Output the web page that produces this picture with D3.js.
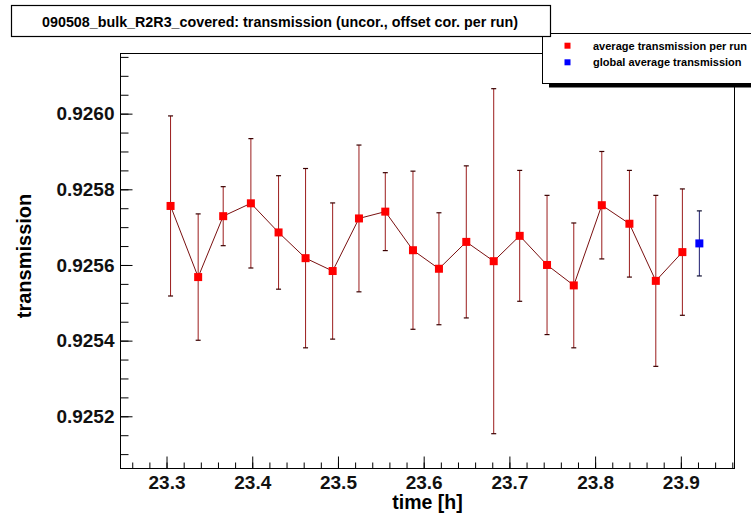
<!DOCTYPE html>
<html>
<head>
<meta charset="utf-8">
<script src="https://cdn.jsdelivr.net/npm/d3@7"></script>
<style>
  body { margin: 0; background: #fff; }
  text { font-family: "Liberation Sans", Arial, Helvetica, sans-serif; }
</style>
</head>
<body>
<svg width="751" height="514"></svg>
<script>
// run times [h], transmission per run and its error
var times = [23.3047, 23.3369, 23.3661, 23.3984, 23.4307, 23.4622, 23.4938, 23.5245, 23.5552, 23.5875,
             23.6178, 23.6497, 23.6817, 23.7120, 23.7439, 23.7751, 23.8078, 23.8400, 23.8708, 23.9018];
var trans = [0.925756, 0.925568, 0.925729, 0.925763, 0.925686, 0.925618, 0.925584, 0.925723, 0.925741, 0.925639,
             0.925590, 0.925661, 0.925610, 0.925677, 0.925600, 0.925546, 0.925758, 0.925709, 0.925558, 0.925634];
var errs  = [0.000238, 0.000167, 0.000078, 0.000171, 0.000150, 0.000237, 0.000180, 0.000194, 0.000103, 0.000209,
             0.000148, 0.000201, 0.000456, 0.000173, 0.000184, 0.000165, 0.000142, 0.000141, 0.000226, 0.000167];

// global average (drawn to the right of the last run)
var globalTime = [23.9216];
var globalTrans = [0.925657];
var globalErr = [0.000086];

var xTicks = [23.3, 23.4, 23.5, 23.6, 23.7, 23.8, 23.9];
var yTicks = [0.9252, 0.9254, 0.9256, 0.9258, 0.9260];

var title = "090508_bulk_R2R3_covered: transmission (uncor., offset cor. per run)";
var legendLabels = ["average transmission per run", "global average transmission"];

var svg = d3.select("svg");

// frame edges (note: "top" is taken by window.top)
var fLeft = 120.5, fRight = 734.5, fTop = 53.5, fBottom = 468.5;

var x = d3.scaleLinear()
    .domain([23.2463, 23.9626])
    .range([fLeft, fRight]);

var y = d3.scaleLinear()
    .domain([0.925062, 0.926159])
    .range([fBottom, fTop]);

// frame
svg.append("rect")
    .attr("x", fLeft).attr("y", fTop)
    .attr("width", fRight - fLeft).attr("height", fBottom - fTop)
    .attr("fill", "#fff").attr("stroke", "#000").attr("stroke-width", 1);

// minor ticks
var xMinor = d3.range(23.26, 23.97, 0.02).map(function(d) { return +d.toFixed(2); });
var yMinor = d3.range(0.92510, 0.92616, 0.00005).map(function(d) { return +d.toFixed(5); });

svg.append("g")
    .attr("transform", "translate(0," + fBottom + ")")
    .call(d3.axisBottom(x).tickValues(xMinor).tickSize(-6).tickFormat(""))
    .call(function(g) { g.select(".domain").remove(); });

svg.append("g")
    .attr("transform", "translate(" + fLeft + ",0)")
    .call(d3.axisLeft(y).tickValues(yMinor).tickSize(-8).tickFormat(""))
    .call(function(g) { g.select(".domain").remove(); });

// major ticks + labels
var xAxis = svg.append("g")
    .attr("transform", "translate(0," + fBottom + ")")
    .call(d3.axisBottom(x).tickValues(xTicks).tickSize(-12).tickPadding(7).tickFormat(d3.format(".1f")));
xAxis.select(".domain").remove();
xAxis.selectAll("text")
    .attr("font-size", "19px").attr("font-weight", "bold").attr("fill", "#111");

var yAxis = svg.append("g")
    .attr("transform", "translate(" + fLeft + ",0)")
    .call(d3.axisLeft(y).tickValues(yTicks).tickSize(-12).tickPadding(6).tickFormat(d3.format(".4f")));
yAxis.select(".domain").remove();
yAxis.selectAll("text")
    .attr("font-size", "19px").attr("font-weight", "bold").attr("fill", "#111");

svg.selectAll(".tick line").attr("stroke", "#000");

// axis titles
svg.append("text")
    .attr("x", (fLeft + fRight) / 2).attr("y", 509)
    .attr("text-anchor", "middle")
    .attr("font-size", "19.5px").attr("font-weight", "bold")
    .text("time [h]");

svg.append("text")
    .attr("transform", "translate(31,256) rotate(-90)")
    .attr("text-anchor", "middle")
    .attr("font-size", "20px").attr("font-weight", "bold")
    .text("transmission");

// data
var runs = times.map(function(t, i) { return { t: t, v: trans[i], e: errs[i] }; });
var glob = globalTime.map(function(t, i) { return { t: t, v: globalTrans[i], e: globalErr[i] }; });

function errorBars(data, color, capColor) {
    var g = svg.append("g");
    g.selectAll("line.bar")
        .data(data)
        .enter().append("line")
        .attr("x1", function(d) { return x(d.t); })
        .attr("x2", function(d) { return x(d.t); })
        .attr("y1", function(d) { return y(d.v - d.e); })
        .attr("y2", function(d) { return y(d.v + d.e); })
        .attr("stroke", color).attr("stroke-width", 1);
    [-1, 1].forEach(function(s) {
        g.selectAll("line.cap" + s)
            .data(data)
            .enter().append("line")
            .attr("x1", function(d) { return x(d.t) - 2.5; })
            .attr("x2", function(d) { return x(d.t) + 2.5; })
            .attr("y1", function(d) { return y(d.v + s * d.e); })
            .attr("y2", function(d) { return y(d.v + s * d.e); })
            .attr("stroke", capColor).attr("stroke-width", 1.2);
    });
}

errorBars(runs, "#9b1c1c", "#3a0000");
errorBars(glob, "#1a1a70", "#101030");

var line = d3.line()
    .x(function(d) { return x(d.t); })
    .y(function(d) { return y(d.v); });

svg.append("path")
    .datum(runs)
    .attr("d", line)
    .attr("fill", "none")
    .attr("stroke", "#7a1010")
    .attr("stroke-width", 1);

svg.selectAll("rect.run")
    .data(runs)
    .enter().append("rect")
    .attr("x", function(d) { return x(d.t) - 4; })
    .attr("y", function(d) { return y(d.v) - 4; })
    .attr("width", 8).attr("height", 8)
    .attr("fill", "#ff0000");

svg.selectAll("rect.glob")
    .data(glob)
    .enter().append("rect")
    .attr("x", function(d) { return x(d.t) - 4; })
    .attr("y", function(d) { return y(d.v) - 4; })
    .attr("width", 8).attr("height", 8)
    .attr("fill", "#0000ff");

// legend
svg.append("rect")
    .attr("x", 549).attr("y", 84).attr("width", 220).attr("height", 3.5)
    .attr("fill", "#000");
svg.append("rect")
    .attr("x", 542.5).attr("y", 33.5).attr("width", 230).attr("height", 50)
    .attr("fill", "#fff").attr("stroke", "#000").attr("stroke-width", 1);

var legendColors = ["#ff0000", "#0000ff"];
var leg = svg.append("g").selectAll("g")
    .data(legendLabels)
    .enter().append("g")
    .attr("transform", function(d, i) { return "translate(567.5," + (45.7 + i * 16.6) + ")"; });
leg.append("rect")
    .attr("x", -3).attr("y", -3).attr("width", 6).attr("height", 6)
    .attr("fill", function(d, i) { return legendColors[i]; });
leg.append("text")
    .attr("x", 25.5).attr("dy", "0.35em")
    .attr("font-size", "11px").attr("font-weight", "bold")
    .text(function(d) { return d; });

// title box
svg.append("rect")
    .attr("x", 11.5).attr("y", 5.5).attr("width", 539).attr("height", 31)
    .attr("fill", "#fff").attr("stroke", "#000").attr("stroke-width", 1.2);
svg.append("text")
    .attr("x", 280).attr("y", 26.5)
    .attr("text-anchor", "middle")
    .attr("font-size", "14.3px").attr("font-weight", "bold")
    .text(title);
</script>
</body>
</html>
